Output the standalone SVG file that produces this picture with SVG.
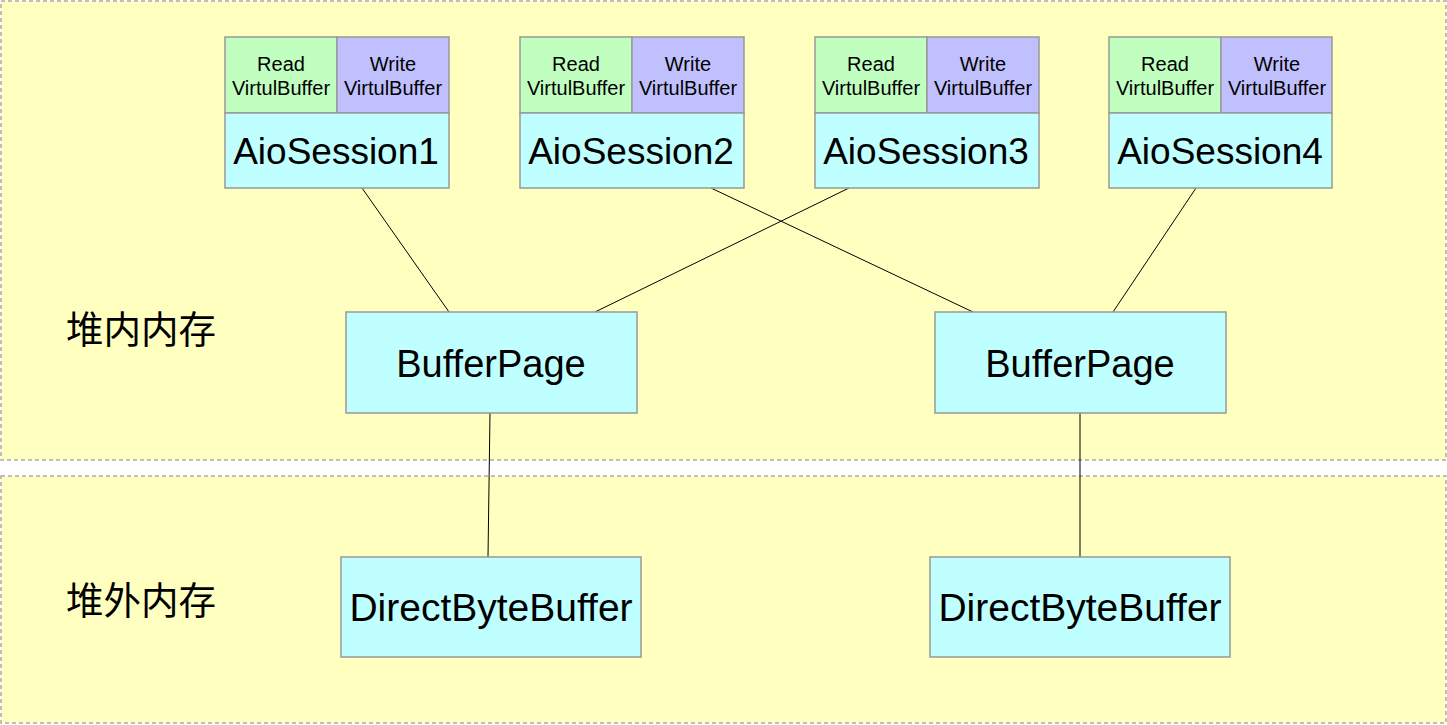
<svg xmlns="http://www.w3.org/2000/svg" width="1447" height="725" viewBox="0 0 1447 725">
<style>
.region{fill:#ffffc0;stroke:#aaaaaa;stroke-width:1.5;stroke-dasharray:4,3}
.box{stroke:#999999;stroke-width:1.5}
.cyan{fill:#c0ffff}
.green{fill:#c0ffc0}
.purple{fill:#c0c0ff}
.sm{font-family:"Liberation Sans",Arial,sans-serif;font-size:20px;fill:#000;text-anchor:middle}
.lg{font-family:"Liberation Sans",Arial,sans-serif;font-size:37px;fill:#000;text-anchor:middle}
.bp{font-size:38px}
.db{font-size:39px}
.cn{font-family:"Liberation Sans","Noto Sans CJK SC",sans-serif;font-size:37.5px;fill:#000}
.conn{stroke:#000;stroke-width:1;fill:none}
</style>
<rect width="1447" height="725" fill="#ffffff"/>
<g id="region-heap">
<rect class="region" x="1" y="1" width="1445" height="459"/>
<text class="cn" x="66" y="343">堆内内存</text>
</g>
<g id="region-offheap">
<rect class="region" x="1" y="476" width="1445" height="247"/>
<text class="cn" x="66" y="614">堆外内存</text>
</g>
<g id="connectors">
<line class="conn" x1="362" y1="188" x2="449" y2="312"/>
<line class="conn" x1="711" y1="188" x2="973" y2="312"/>
<line class="conn" x1="849" y1="188" x2="595" y2="312"/>
<line class="conn" x1="1196" y1="188" x2="1113" y2="312"/>
<line class="conn" x1="490" y1="413" x2="488" y2="557"/>
<line class="conn" x1="1080" y1="413" x2="1080" y2="557"/>
</g>
<g id="session1">
<rect class="box green" x="225" y="37" width="112" height="76"/>
<rect class="box purple" x="337" y="37" width="112" height="76"/>
<rect class="box cyan" x="225" y="113" width="224" height="75"/>
<text class="sm" x="281" y="71">Read</text><text class="sm" x="281" y="95">VirtulBuffer</text>
<text class="sm" x="393" y="71">Write</text><text class="sm" x="393" y="95">VirtulBuffer</text>
<text class="lg" x="336" y="164">AioSession1</text>
</g>
<g id="session2">
<rect class="box green" x="520" y="37" width="112" height="76"/>
<rect class="box purple" x="632" y="37" width="112" height="76"/>
<rect class="box cyan" x="520" y="113" width="224" height="75"/>
<text class="sm" x="576" y="71">Read</text><text class="sm" x="576" y="95">VirtulBuffer</text>
<text class="sm" x="688" y="71">Write</text><text class="sm" x="688" y="95">VirtulBuffer</text>
<text class="lg" x="631" y="164">AioSession2</text>
</g>
<g id="session3">
<rect class="box green" x="815" y="37" width="112" height="76"/>
<rect class="box purple" x="927" y="37" width="112" height="76"/>
<rect class="box cyan" x="815" y="113" width="224" height="75"/>
<text class="sm" x="871" y="71">Read</text><text class="sm" x="871" y="95">VirtulBuffer</text>
<text class="sm" x="983" y="71">Write</text><text class="sm" x="983" y="95">VirtulBuffer</text>
<text class="lg" x="926" y="164">AioSession3</text>
</g>
<g id="session4">
<rect class="box green" x="1109" y="37" width="112" height="76"/>
<rect class="box purple" x="1221" y="37" width="111" height="76"/>
<rect class="box cyan" x="1109" y="113" width="223" height="75"/>
<text class="sm" x="1165" y="71">Read</text><text class="sm" x="1165" y="95">VirtulBuffer</text>
<text class="sm" x="1277" y="71">Write</text><text class="sm" x="1277" y="95">VirtulBuffer</text>
<text class="lg" x="1220" y="164">AioSession4</text>
</g>
<g id="bufferpage1">
<rect class="box cyan" x="346" y="312" width="291" height="101"/>
<text class="lg bp" x="491" y="377">BufferPage</text>
</g>
<g id="bufferpage2">
<rect class="box cyan" x="935" y="312" width="291" height="101"/>
<text class="lg bp" x="1080" y="377">BufferPage</text>
</g>
<g id="directbuffer1">
<rect class="box cyan" x="341" y="557" width="300" height="100"/>
<text class="lg db" x="491" y="621">DirectByteBuffer</text>
</g>
<g id="directbuffer2">
<rect class="box cyan" x="930" y="557" width="300" height="100"/>
<text class="lg db" x="1080" y="621">DirectByteBuffer</text>
</g>
</svg>
